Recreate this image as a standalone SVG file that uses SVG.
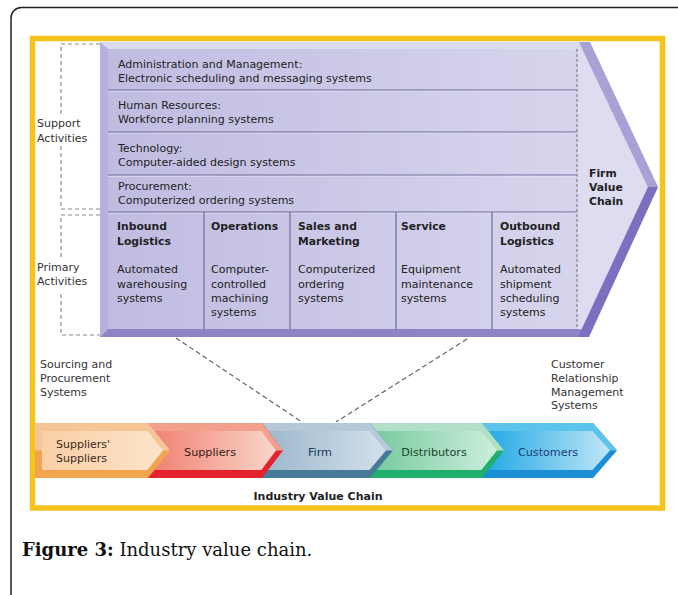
<svg xmlns="http://www.w3.org/2000/svg" width="678" height="595" viewBox="0 0 678 595">
<defs>
  <linearGradient id="gFace" x1="0" y1="0" x2="1" y2="0">
    <stop offset="0" stop-color="#c0bce1"/>
    <stop offset="1" stop-color="#d7d5ed"/>
  </linearGradient>
  <linearGradient id="gOr" x1="0" y1="0" x2="1" y2="0">
    <stop offset="0" stop-color="#f9cfa6"/>
    <stop offset="1" stop-color="#fde4c9"/>
  </linearGradient>
  <linearGradient id="gRed" x1="0" y1="0" x2="1" y2="0">
    <stop offset="0" stop-color="#ee7f6e"/>
    <stop offset="1" stop-color="#fbd6cb"/>
  </linearGradient>
  <linearGradient id="gFirm" x1="0" y1="0" x2="1" y2="0">
    <stop offset="0" stop-color="#9bb6cb"/>
    <stop offset="1" stop-color="#d3e0eb"/>
  </linearGradient>
  <linearGradient id="gGreen" x1="0" y1="0" x2="1" y2="0">
    <stop offset="0" stop-color="#74c99d"/>
    <stop offset="1" stop-color="#cdeedc"/>
  </linearGradient>
  <linearGradient id="gBlue" x1="0" y1="0" x2="1" y2="0">
    <stop offset="0" stop-color="#1ea7e4"/>
    <stop offset="1" stop-color="#c0e6f7"/>
  </linearGradient>
</defs>
<style>
  .t{font-family:"DejaVu Sans","Liberation Sans",sans-serif;font-size:11px;fill:#222}
  .s{font-family:"DejaVu Sans","Liberation Sans",sans-serif;font-size:11px;fill:#333}
  .b{font-weight:bold;font-size:10.8px}
  .c{font-family:"DejaVu Sans","Liberation Sans",sans-serif;font-size:11.2px;text-anchor:middle}
  .sep{stroke:#6e6a98;stroke-width:1.2;fill:none}
  .hl{stroke:#e4e2f4;stroke-width:1;fill:none;opacity:0.7}
  .dash{stroke:#8a8a8a;stroke-width:1.2;stroke-dasharray:4 3;fill:none}
  .conn{stroke:#666;stroke-width:1.2;stroke-dasharray:5 3;fill:none}
</style>

<rect width="678" height="595" fill="#ffffff"/>
<!-- outer page frame -->
<path d="M11,600 V18 A10.5,10.5 0 0 1 21.5,7.5 H680" fill="none" stroke="#222" stroke-width="1.5"/>
<!-- yellow frame -->
<rect x="32.5" y="38.5" width="630" height="469.5" fill="#ffffff" stroke="#f6c31c" stroke-width="5.5"/>

<!-- Firm value chain plate -->
<g id="firm-value-chain">
  <polygon points="100,42 588,42 658,187 588,337 100,337" fill="#c6c3e5"/>
  <rect x="108" y="49" width="469" height="280" fill="url(#gFace)"/>
  <polygon points="100,42 588,42 584,49 108,49" fill="#dcdcef"/>
  <polygon points="100,42 108,49 108,329 100,337" fill="#b6b1dc"/>
  <polygon points="100,337 108,329 580,329 588,337" fill="#8c84c7"/>
  <polygon points="577,49 582,49 648,187 582,329 577,329" fill="#dddcf1"/>
  <polygon points="579,42 590,42 658,187 648,187" fill="#a7a1d5"/>
  <polygon points="648,187 658,187 589,337 578,337" fill="#7b6fc0"/>
  <line x1="577" y1="49" x2="577" y2="329" stroke="#555" stroke-width="0.8" stroke-dasharray="3 2"/>
  <text class="t b" x="589" y="177">Firm</text>
  <text class="t b" x="589" y="191">Value</text>
  <text class="t b" x="589" y="205">Chain</text>
</g>

<!-- Support activity rows -->
<g id="support-rows">
  <line class="sep" x1="108" y1="90" x2="577" y2="90"/>
  <line class="hl" x1="108" y1="91.3" x2="577" y2="91.3"/>
  <line class="sep" x1="108" y1="132" x2="577" y2="132"/>
  <line class="hl" x1="108" y1="133.3" x2="577" y2="133.3"/>
  <line class="sep" x1="108" y1="175" x2="577" y2="175"/>
  <line class="hl" x1="108" y1="176.3" x2="577" y2="176.3"/>
  <line class="sep" x1="108" y1="212" x2="577" y2="212"/>
  <line class="hl" x1="108" y1="213.3" x2="577" y2="213.3"/>
</g>
<g id="admin-management">
  <text class="t" x="118" y="68">Administration and Management:</text>
  <text class="t" x="118" y="82">Electronic scheduling and messaging systems</text>
</g>
<g id="human-resources">
  <text class="t" x="118" y="109">Human Resources:</text>
  <text class="t" x="118" y="123">Workforce planning systems</text>
</g>
<g id="technology">
  <text class="t" x="118" y="152">Technology:</text>
  <text class="t" x="118" y="166">Computer-aided design systems</text>
</g>
<g id="procurement">
  <text class="t" x="118" y="190">Procurement:</text>
  <text class="t" x="118" y="204">Computerized ordering systems</text>
</g>

<!-- Primary activity columns -->
<g id="primary-dividers">
  <line class="sep" x1="204" y1="212" x2="204" y2="329"/>
  <line class="sep" x1="290" y1="212" x2="290" y2="329"/>
  <line class="sep" x1="396" y1="212" x2="396" y2="329"/>
  <line class="sep" x1="492" y1="212" x2="492" y2="329"/>
</g>
<g id="inbound-logistics">
  <text class="t b" x="117" y="230">Inbound</text>
  <text class="t b" x="117" y="244.5">Logistics</text>
  <text class="t" x="117" y="273">Automated</text>
  <text class="t" x="117" y="287.5">warehousing</text>
  <text class="t" x="117" y="301.5">systems</text>
</g>
<g id="operations">
  <text class="t b" x="211" y="230">Operations</text>
  <text class="t" x="211" y="273">Computer-</text>
  <text class="t" x="211" y="287.5">controlled</text>
  <text class="t" x="211" y="301.5">machining</text>
  <text class="t" x="211" y="315.5">systems</text>
</g>
<g id="sales-marketing">
  <text class="t b" x="298" y="230">Sales and</text>
  <text class="t b" x="298" y="244.5">Marketing</text>
  <text class="t" x="298" y="273">Computerized</text>
  <text class="t" x="298" y="287.5">ordering</text>
  <text class="t" x="298" y="301.5">systems</text>
</g>
<g id="service">
  <text class="t b" x="401" y="230">Service</text>
  <text class="t" x="401" y="273">Equipment</text>
  <text class="t" x="401" y="287.5">maintenance</text>
  <text class="t" x="401" y="301.5">systems</text>
</g>
<g id="outbound-logistics">
  <text class="t b" x="500" y="230">Outbound</text>
  <text class="t b" x="500" y="244.5">Logistics</text>
  <text class="t" x="500" y="273">Automated</text>
  <text class="t" x="500" y="287.5">shipment</text>
  <text class="t" x="500" y="301.5">scheduling</text>
  <text class="t" x="500" y="315.5">systems</text>
</g>

<!-- side labels -->
<g id="support-activities">
  <text class="s" x="37" y="127">Support</text>
  <text class="s" x="37" y="142">Activities</text>
</g>
<g id="primary-activities">
  <text class="s" x="37" y="271">Primary</text>
  <text class="s" x="37" y="285">Activities</text>
</g>
<g id="sourcing">
  <text class="s" x="40" y="368">Sourcing and</text>
  <text class="s" x="40" y="381.5">Procurement</text>
  <text class="s" x="40" y="395.5">Systems</text>
</g>
<g id="crm">
  <text class="s" x="551" y="368">Customer</text>
  <text class="s" x="551" y="381.5">Relationship</text>
  <text class="s" x="551" y="395.5">Management</text>
  <text class="s" x="551" y="409">Systems</text>
</g>

<!-- connectors -->
<g id="connectors">
  <path class="dash" d="M100,44 H61 V114 M61,146 V209 H100"/>
  <path class="dash" d="M100,215 H61 V258 M61,294 V335 H100"/>
  <line class="conn" x1="176" y1="338" x2="302" y2="422"/>
  <line class="conn" x1="467" y1="339" x2="336" y2="422"/>
</g>

<!-- Industry value chain -->
<g id="customers">
  <polygon points="482,423 593,423 617,450.5 593,478 482,478" fill="#1a8fd5"/>
  <polygon points="482,423 593,423 617,450.5 482,450.5" fill="#5cc3ec"/>
  <polygon points="482,431 592.4,431 610,450.5 592.4,470 482,470" fill="url(#gBlue)"/>
  <text class="c" x="548" y="455.5" fill="#1c3f78">Customers</text>
</g>
<g id="distributors">
  <polygon points="370,423 482,423 504,450.5 482,478 370,478" fill="#1fae6c"/>
  <polygon points="370,423 482,423 504,450.5 370,450.5" fill="#b2e0c6"/>
  <polygon points="370,431 481.4,431 497,450.5 481.4,470 370,470" fill="url(#gGreen)"/>
  <text class="c" x="434" y="455.5" fill="#1b4630">Distributors</text>
</g>
<g id="firm">
  <polygon points="262,423 370,423 393,450.5 370,478 262,478" fill="#467a96"/>
  <polygon points="262,423 370,423 393,450.5 262,450.5" fill="#b4c8d9"/>
  <polygon points="262,431 369.4,431 386,450.5 369.4,470 262,470" fill="url(#gFirm)"/>
  <text class="c" x="320" y="455.5" fill="#1e3c58">Firm</text>
</g>
<g id="suppliers">
  <polygon points="148,423 262,423 283,450.5 262,478 148,478" fill="#e5222b"/>
  <polygon points="148,423 262,423 283,450.5 148,450.5" fill="#f2a08c"/>
  <polygon points="148,431 261.4,431 276,450.5 261.4,470 148,470" fill="url(#gRed)"/>
  <text class="c" x="210" y="455.5" fill="#3a2020">Suppliers</text>
</g>
<g id="suppliers-suppliers">
  <polygon points="35,423 148,423 170,450.5 148,478 35,478" fill="#f2a54e"/>
  <polygon points="35,423 148,423 170,450.5 35,450.5" fill="#f5c596"/>
  <polygon points="42,431 147.4,431 163,450.5 147.4,470 42,470" fill="url(#gOr)"/>
  <text class="t" x="56" y="448" fill="#3a2a1a" style="fill:#3a2a1a">Suppliers'</text>
  <text class="t" x="56" y="462" style="fill:#3a2a1a">Suppliers</text>
</g>
<g id="industry-label">
  <text class="t" x="318" y="500" text-anchor="middle" style="font-weight:bold;font-size:11px">Industry Value Chain</text>
</g>

<!-- caption -->
<text x="22" y="556" style="font-family:'DejaVu Serif','Liberation Serif',serif;font-size:18px;fill:#111"><tspan font-weight="bold">Figure 3:</tspan> Industry value chain.</text>
</svg>
